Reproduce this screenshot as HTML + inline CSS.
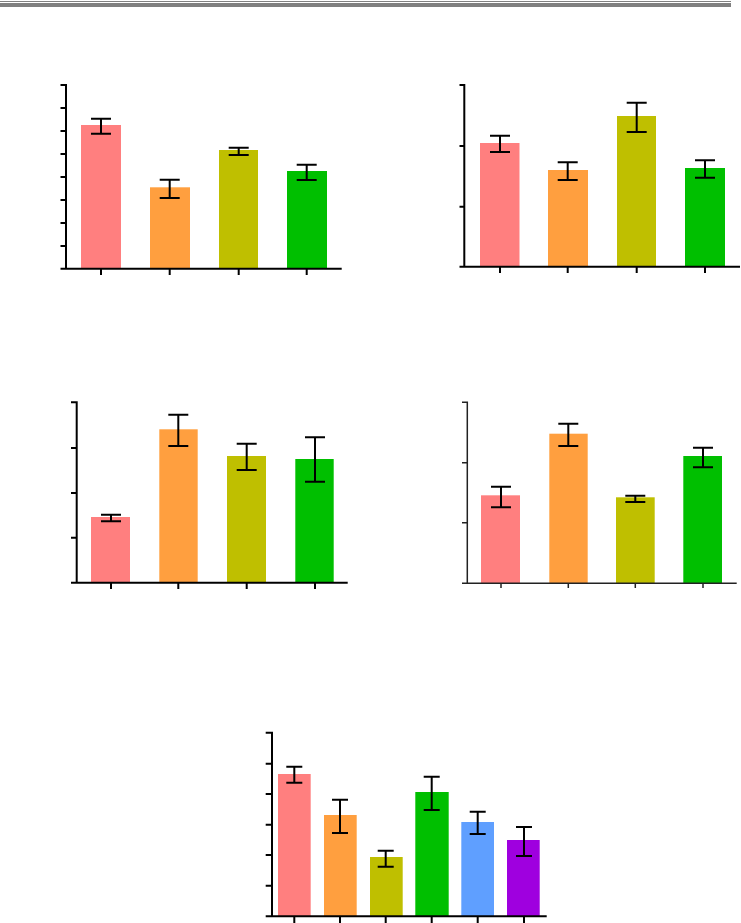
<!DOCTYPE html>
<html><head><meta charset="utf-8"><style>
html,body{margin:0;padding:0;background:#fff;}
svg{display:block;}
</style></head><body>
<svg width="741" height="923" viewBox="0 0 741 923" xmlns="http://www.w3.org/2000/svg">
<rect x="0" y="0" width="741" height="923" fill="#fff"/>
<!-- header lines -->
<rect x="0" y="1" width="731" height="1" fill="#808080"/>
<rect x="0" y="3" width="731" height="4" fill="#808080"/>

<g stroke="#000" stroke-width="2" fill="none">
<!-- Chart 1 -->
<g>
<rect x="81" y="125" width="40" height="144" fill="#FF7F7F" stroke="none"/>
<rect x="150" y="187.3" width="40" height="81.5" fill="#FF9F3F" stroke="none"/>
<rect x="219" y="150" width="39" height="119" fill="#BFBF00" stroke="none"/>
<rect x="287" y="171" width="40" height="98" fill="#00BF00" stroke="none"/>
<path d="M66 84V269.7M60.5 85H66M60.5 108H66M60.5 131H66M60.5 154H66M60.5 177H66M60.5 200H66M60.5 223H66M60.5 246H66M60.5 268.7H341.7M101 268.7V275M169.7 268.7V275M238.7 268.7V275M306.7 268.7V275"/>
<path d="M101 118.7V133.7M91 118.7H111M91 133.7H111"/>
<path d="M169.7 179.7V198M159.7 179.7H179.7M159.7 198H179.7"/>
<path d="M238.7 147.7V155M228.7 147.7H248.7M228.7 155H248.7"/>
<path d="M306.7 164.7V180M296.7 164.7H316.7M296.7 180H316.7"/>
</g>
<!-- Chart 2 -->
<g>
<rect x="480" y="143" width="39.5" height="124" fill="#FF7F7F" stroke="none"/>
<rect x="548" y="170" width="40" height="97" fill="#FF9F3F" stroke="none"/>
<rect x="617" y="116" width="39" height="151" fill="#BFBF00" stroke="none"/>
<rect x="685" y="168" width="40" height="99" fill="#00BF00" stroke="none"/>
<path d="M464.3 84V267.7M459.5 85H464.3M459.5 146H464.3M459.5 206.7H464.3M459.5 266.7H740M500 266.7V273M567.7 266.7V273M636.7 266.7V273M705 266.7V273"/>
<path d="M500 135.7V152M490 135.7H510M490 152H510"/>
<path d="M567.7 162.3V180M557.7 162.3H577.7M557.7 180H577.7"/>
<path d="M636.7 102.7V132M626.7 102.7H646.7M626.7 132H646.7"/>
<path d="M705 160.3V177.7M695 160.3H715M695 177.7H715"/>
</g>
<!-- Chart 3 -->
<g>
<rect x="91" y="517" width="39" height="66" fill="#FF7F7F" stroke="none"/>
<rect x="159.3" y="429.3" width="38.4" height="153.4" fill="#FF9F3F" stroke="none"/>
<rect x="227" y="456" width="39" height="126.7" fill="#BFBF00" stroke="none"/>
<rect x="295.3" y="459" width="38.4" height="123.7" fill="#00BF00" stroke="none"/>
<path d="M76.7 401.3V583.7M71 402.3H76.7M71 448H76.7M71 493H76.7M71 537.7H76.7M71 582.7H347.7M111 582.7V589M178.3 582.7V589M246.7 582.7V589M315 582.7V589"/>
<path d="M111 514.7V521.3M101 514.7H121M101 521.3H121"/>
<path d="M178.3 414.7V446M168.3 414.7H188.3M168.3 446H188.3"/>
<path d="M246.7 443.7V470M236.7 443.7H256.7M236.7 470H256.7"/>
<path d="M315 437.3V481.7M305 437.3H325M305 481.7H325"/>
</g>
<!-- Chart 4 -->
<g>
<rect x="481" y="495.3" width="39" height="88" fill="#FF7F7F" stroke="none"/>
<rect x="549.3" y="433.7" width="38.4" height="149.6" fill="#FF9F3F" stroke="none"/>
<rect x="616" y="497.3" width="38.7" height="86" fill="#BFBF00" stroke="none"/>
<rect x="683.3" y="456" width="38.7" height="127.3" fill="#00BF00" stroke="none"/>
<path stroke="#222" stroke-width="1.5" d="M467.3 401.5V584M462 402.3H467.3M462 462.7H467.3M462 522.7H467.3M462 583.3H736.7M501 583.3V588M568.3 583.3V588M635.3 583.3V588M703 583.3V588"/>
<path d="M501 486.7V507.3M491 486.7H511M491 507.3H511"/>
<path d="M568.3 423.7V446M558.3 423.7H578.3M558.3 446H578.3"/>
<path d="M635.3 495.7V502M625.3 495.7H645.3M625.3 502H645.3"/>
<path d="M703 447.7V467.3M693 447.7H713M693 467.3H713"/>
</g>
<!-- Chart 5 -->
<g>
<rect x="278" y="774" width="32.7" height="142.3" fill="#FF7F7F" stroke="none"/>
<rect x="324" y="815" width="32.7" height="101.3" fill="#FF9F3F" stroke="none"/>
<rect x="370" y="857" width="32.7" height="59.3" fill="#BFBF00" stroke="none"/>
<rect x="415.3" y="792" width="33.4" height="124.3" fill="#00BF00" stroke="none"/>
<rect x="461.3" y="822" width="32.7" height="94.3" fill="#5F9FFF" stroke="none"/>
<rect x="507" y="840" width="32.7" height="76.3" fill="#9F00DF" stroke="none"/>
<path d="M272 731.7V917.3M265.7 732.7H272M265.7 763.7H272M265.7 794H272M265.7 824.7H272M265.7 855H272M265.7 885.7H272M265.7 916.3H546.7M294.3 916.3V923M340 916.3V923M385.7 916.3V923M431.7 916.3V923M477.7 916.3V923M524 916.3V923"/>
<path d="M294.3 766.7V782.7M286.3 766.7H302.3M286.3 782.7H302.3"/>
<path d="M340 799.7V833M332 799.7H348M332 833H348"/>
<path d="M385.7 850.7V866.7M377.7 850.7H393.7M377.7 866.7H393.7"/>
<path d="M431.7 776.7V810M423.7 776.7H439.7M423.7 810H439.7"/>
<path d="M477.7 811.7V834M469.7 811.7H485.7M469.7 834H485.7"/>
<path d="M524 827V856M516 827H532M516 856H532"/>
</g>
</g>
</svg>
</body></html>
